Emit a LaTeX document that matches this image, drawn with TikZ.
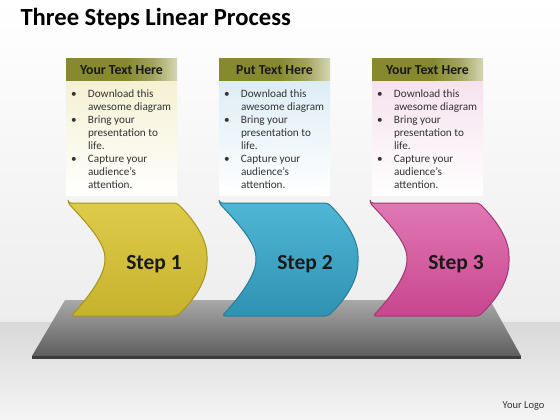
\documentclass[tikz,border=0pt]{standalone}
\usepackage{fontspec}
\setmainfont{Carlito}
\usetikzlibrary{positioning}
\definecolor{hdrolive}{HTML}{868A2C}
\definecolor{bodytext}{HTML}{333333}
\definecolor{yeltint}{HTML}{F5F1D3}
\definecolor{blutint}{HTML}{DDEDF5}
\definecolor{pnktint}{HTML}{F6E2ED}
\definecolor{yeltop}{HTML}{DECB4A}
\definecolor{yelbot}{HTML}{C6B22C}
\definecolor{yelline}{HTML}{A6941C}
\definecolor{blutop}{HTML}{4FB6D6}
\definecolor{blubot}{HTML}{3092B3}
\definecolor{bluline}{HTML}{297C98}
\definecolor{pnktop}{HTML}{E078B4}
\definecolor{pnkbot}{HTML}{C8468E}
\definecolor{pnkline}{HTML}{A43874}
\definecolor{platetop}{HTML}{A8A8A8}
\definecolor{platebot}{HTML}{5E5E5E}
\definecolor{plateedge}{HTML}{3C3C3C}
\pgfdeclarehorizontalshading{hdrfade}{100bp}{color(0bp)=(hdrolive); color(52bp)=(hdrolive);
  color(64bp)=(hdrolive!78!white); color(75bp)=(hdrolive!35!white); color(100bp)=(hdrolive!35!white)}

\newcommand{\bulletlist}{%
  \begin{tabular}{@{}p{17pt}@{}l@{}}
    \textbullet & Download this\\
                & awesome diagram\\
    \textbullet & Bring your\\
                & presentation to\\
                & life.\\
    \textbullet & Capture your\\
                & audience’s\\
                & attention.
  \end{tabular}}

\begin{document}
\begin{tikzpicture}[x=1pt,y=-1pt,
    hdrbox/.style={minimum width=111pt, minimum height=22pt, inner sep=0pt,
      shading=hdrfade, shading angle=0, text=black!90, font=\fontsize{13.8}{15}\selectfont\bfseries},
    bodybox/.style={inner sep=0pt, text=bodytext, font=\fontsize{11.2}{13}\selectfont},
    stepshape/.style={line width=1pt, rounded corners=3pt},
    steplabel/.style={anchor=base, text=black!90, font=\fontsize{21.5}{24}\selectfont\bfseries}]
    % Background and floor
    \useasboundingbox (0,0) rectangle (560,420);
    \shade[top color=white, bottom color=black!7] (0,0) rectangle (560,322);
    \shade[top color=black!15, bottom color=black!4] (0,322) rectangle (560,420);
    % Title
    \node[anchor=base west, font=\fontsize{24.6}{28}\selectfont\bfseries] (title) at (17,26) {Three Steps Linear Process};
    % Text boxes with headers
    \foreach \i/\col/\hdr in {1/yel/Your Text Here, 2/blu/Put Text Here, 3/pnk/Your Text Here}{
      \shade[top color=\col tint, bottom color=white] (121.5+153*\i-153-55.5,81) rectangle ++(111,114);
      \node[hdrbox, shade] (hdr\i) at (121.5+153*\i-153,70) {\hdr};
      \node[bodybox, below right=7pt and 5pt of hdr\i.south west] (txt\i) {\bulletlist};
    }
    % Platform
    \shade[top color=platetop, bottom color=platebot] (65,300) -- (490,300) -- (521,356) -- (32,356) -- cycle;
    \fill[plateedge] (32,356) rectangle (521,359);
    % Chevron steps
    \foreach \i/\col in {1/yel, 2/blu, 3/pnk}{
      \begin{scope}[shift={(151*\i-151,0)}]
        \draw[stepshape, top color=\col top, bottom color=\col bot, draw=\col line]
          (68,203) -- (177,203) .. controls (196,222) and (207,240) .. (207,259)
          .. controls (207,281) and (194,300) .. (177,316) -- (71,316)
          .. controls (88,298) and (104,276) .. (105,259)
          .. controls (104,242) and (86,222) .. (68,203) -- cycle;
        \node[steplabel] (step\i) at (154,269) {Step \i};
      \end{scope}
    }
    % Logo
    \node[anchor=base east, text=black!80, font=\fontsize{10.5}{12}\selectfont] (logo) at (548,408) {Your Logo};
\end{tikzpicture}
\end{document}
